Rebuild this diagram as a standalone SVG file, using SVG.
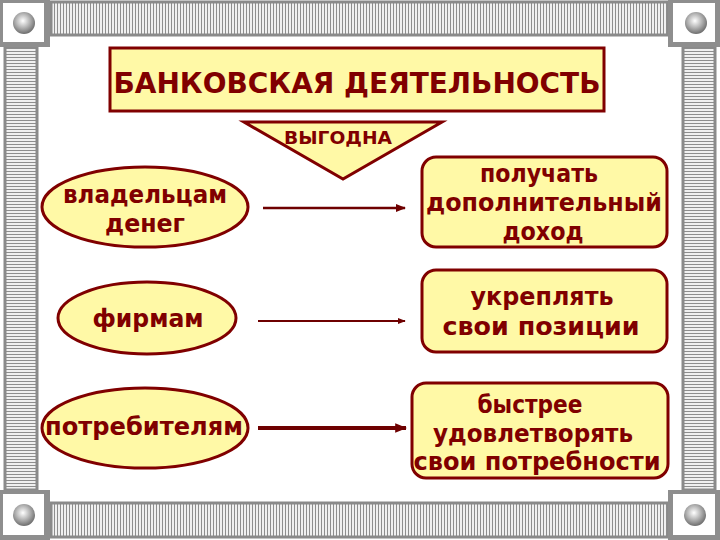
<svg xmlns="http://www.w3.org/2000/svg" width="720" height="540" viewBox="0 0 720 540">
<defs>
<style>
.frame{stroke:#8a8a8a;stroke-width:3}
.node{fill:#FFF9A6;stroke:#800000;stroke-width:3}
.t{font-family:"DejaVu Sans","Liberation Sans",sans-serif;font-weight:bold;fill:#800000;text-anchor:middle}
.n{font-size:24px}
.conn{stroke:#6e0000;fill:none}
</style>
<pattern id="vs" width="3" height="4" patternUnits="userSpaceOnUse">
<rect width="3" height="4" fill="#f0f0f0"/><rect width="1" height="4" fill="#8e8e8e"/>
</pattern>
<pattern id="hs" width="4" height="3" patternUnits="userSpaceOnUse">
<rect width="4" height="3" fill="#f0f0f0"/><rect width="4" height="1" fill="#8e8e8e"/>
</pattern>
<radialGradient id="ball" cx="0.45" cy="0.4" r="0.6">
<stop offset="0" stop-color="#ffffff"/><stop offset="0.5" stop-color="#b8b8b8"/><stop offset="1" stop-color="#6e6e6e"/>
</radialGradient>
<marker id="ah" viewBox="0 0 10 10" refX="9" refY="5" markerWidth="4" markerHeight="4" orient="auto" markerUnits="strokeWidth">
<path d="M0,1 L10,5 L0,9 z" fill="#6e0000"/>
</marker>
<marker id="ah2" viewBox="0 0 10 10" refX="9" refY="5" markerWidth="3" markerHeight="3" orient="auto" markerUnits="strokeWidth">
<path d="M0,1 L10,5 L0,9 z" fill="#6e0000"/>
</marker>
</defs>
<rect width="720" height="540" fill="#ffffff"/>
<g id="frame">
<rect x="51" y="2" width="617" height="33" fill="url(#vs)" class="frame"/>
<rect x="51" y="503" width="617" height="34" fill="url(#vs)" class="frame"/>
<rect x="5" y="47" width="32" height="443" fill="url(#hs)" class="frame"/>
<rect x="683" y="47" width="32" height="443" fill="url(#hs)" class="frame"/>
<rect x="0" y="0" width="50" height="47" fill="#8e8e8e"/>
<rect x="3" y="3" width="41" height="39" fill="#ffffff"/>
<circle cx="24" cy="23" r="11" fill="url(#ball)"/>
<rect x="668" y="0" width="52" height="47" fill="#8e8e8e"/>
<rect x="673" y="3" width="42" height="39" fill="#ffffff"/>
<circle cx="696" cy="23" r="11" fill="url(#ball)"/>
<rect x="0" y="490" width="50" height="50" fill="#8e8e8e"/>
<rect x="3" y="494" width="41" height="41" fill="#ffffff"/>
<circle cx="24" cy="515" r="11" fill="url(#ball)"/>
<rect x="668" y="490" width="52" height="50" fill="#8e8e8e"/>
<rect x="673" y="494" width="42" height="41" fill="#ffffff"/>
<circle cx="695" cy="515" r="11" fill="url(#ball)"/>
</g>
<g id="title">
<rect x="110" y="48" width="494" height="63" class="node"/>
<text x="357" y="93" class="t" font-size="29" textLength="487" lengthAdjust="spacingAndGlyphs">БАНКОВСКАЯ ДЕЯТЕЛЬНОСТЬ</text>
</g>
<g id="vygodna">
<path d="M244,122 L442,122 L343,179 Z" class="node"/>
<text x="338" y="144" class="t" font-size="18" textLength="108" lengthAdjust="spacingAndGlyphs">ВЫГОДНА</text>
</g>
<g id="owners">
<ellipse cx="145" cy="207" rx="103" ry="40" class="node"/>
<text x="145" y="203" class="t n" textLength="164" lengthAdjust="spacingAndGlyphs">владельцам</text>
<text x="145" y="232" class="t n" textLength="80" lengthAdjust="spacingAndGlyphs">денег</text>
</g>
<g id="firms">
<ellipse cx="147" cy="318" rx="89" ry="36" class="node"/>
<text x="148" y="327" class="t n" textLength="111" lengthAdjust="spacingAndGlyphs">фирмам</text>
</g>
<g id="consumers">
<ellipse cx="145" cy="428" rx="103" ry="40" class="node"/>
<text x="144" y="435" class="t n" textLength="198" lengthAdjust="spacingAndGlyphs">потребителям</text>
</g>
<g id="income">
<rect x="422" y="157" width="245" height="90" rx="14" class="node"/>
<text x="539" y="182" class="t n" textLength="118" lengthAdjust="spacingAndGlyphs">получать</text>
<text x="544" y="211" class="t n" textLength="236" lengthAdjust="spacingAndGlyphs">дополнительный</text>
<text x="543" y="240" class="t n" textLength="81" lengthAdjust="spacingAndGlyphs">доход</text>
</g>
<g id="positions">
<rect x="422" y="270" width="245" height="82" rx="14" class="node"/>
<text x="542" y="305" class="t n" textLength="143" lengthAdjust="spacingAndGlyphs">укреплять</text>
<text x="541" y="335" class="t n" textLength="197" lengthAdjust="spacingAndGlyphs">свои позиции</text>
</g>
<g id="needs">
<rect x="412" y="383" width="256" height="95" rx="14" class="node"/>
<text x="530" y="413" class="t n" textLength="105" lengthAdjust="spacingAndGlyphs">быстрее</text>
<text x="533" y="442" class="t n" textLength="200" lengthAdjust="spacingAndGlyphs">удовлетворять</text>
<text x="537" y="470" class="t n" textLength="247" lengthAdjust="spacingAndGlyphs">свои потребности</text>
</g>
<g id="connectors">
<line x1="263" y1="208" x2="405" y2="208" class="conn" stroke-width="2.5" marker-end="url(#ah)"/>
<line x1="258" y1="321" x2="405" y2="321" class="conn" stroke-width="2" marker-end="url(#ah)"/>
<line x1="258" y1="428" x2="406" y2="428" class="conn" stroke-width="4" marker-end="url(#ah2)"/>
</g>
</svg>
